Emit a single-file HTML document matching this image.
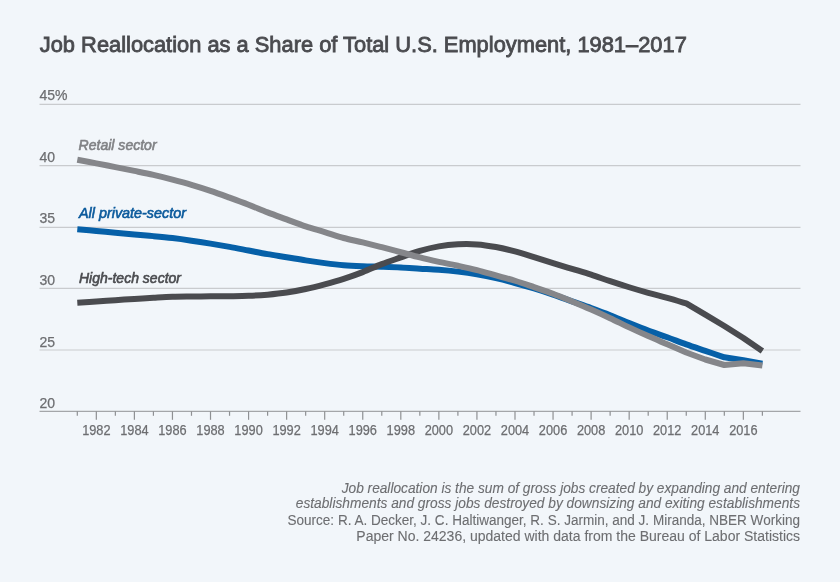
<!DOCTYPE html>
<html><head><meta charset="utf-8"><title>Job Reallocation as a Share of Total U.S. Employment, 1981–2017</title>
<style>
html,body{margin:0;padding:0;background:#f2f6fa;}
body{width:840px;height:582px;overflow:hidden;}
svg{display:block;}
text{font-family:"Liberation Sans",Arial,sans-serif;}
.ti{font-size:22.6px;font-weight:normal;fill:#4a4b4f;stroke:#4a4b4f;stroke-width:0.85px;}
.ax{font-size:14px;fill:#6d6e71;stroke:#6d6e71;stroke-width:0.25px;}
.sl{font-size:14.2px;font-weight:normal;font-style:italic;stroke-width:0.6px;}
.fn{font-size:14px;fill:#6d6e71;stroke:#6d6e71;stroke-width:0.1px;}
</style></head>
<body>
<svg width="840" height="582" viewBox="0 0 840 582" style="will-change:transform">
<rect width="840" height="582" fill="#f2f6fa"/>
<line x1="39.5" y1="104.3" x2="800.5" y2="104.3" stroke="#c9cbce" stroke-width="1.2"/>
<line x1="39.5" y1="165.6" x2="800.5" y2="165.6" stroke="#c9cbce" stroke-width="1.2"/>
<line x1="39.5" y1="227.3" x2="800.5" y2="227.3" stroke="#c9cbce" stroke-width="1.2"/>
<line x1="39.5" y1="288.4" x2="800.5" y2="288.4" stroke="#c9cbce" stroke-width="1.2"/>
<line x1="39.5" y1="350.0" x2="800.5" y2="350.0" stroke="#c9cbce" stroke-width="1.2"/>
<line x1="39.5" y1="411.3" x2="800.5" y2="411.3" stroke="#a4a6a9" stroke-width="1.2"/>
<line x1="77.30" y1="411.3" x2="77.30" y2="415.8" stroke="#8e9093" stroke-width="1.2"/>
<line x1="96.33" y1="411.3" x2="96.33" y2="419.8" stroke="#8e9093" stroke-width="1.2"/>
<line x1="115.36" y1="411.3" x2="115.36" y2="415.8" stroke="#8e9093" stroke-width="1.2"/>
<line x1="134.39" y1="411.3" x2="134.39" y2="419.8" stroke="#8e9093" stroke-width="1.2"/>
<line x1="153.42" y1="411.3" x2="153.42" y2="415.8" stroke="#8e9093" stroke-width="1.2"/>
<line x1="172.45" y1="411.3" x2="172.45" y2="419.8" stroke="#8e9093" stroke-width="1.2"/>
<line x1="191.48" y1="411.3" x2="191.48" y2="415.8" stroke="#8e9093" stroke-width="1.2"/>
<line x1="210.51" y1="411.3" x2="210.51" y2="419.8" stroke="#8e9093" stroke-width="1.2"/>
<line x1="229.54" y1="411.3" x2="229.54" y2="415.8" stroke="#8e9093" stroke-width="1.2"/>
<line x1="248.57" y1="411.3" x2="248.57" y2="419.8" stroke="#8e9093" stroke-width="1.2"/>
<line x1="267.60" y1="411.3" x2="267.60" y2="415.8" stroke="#8e9093" stroke-width="1.2"/>
<line x1="286.63" y1="411.3" x2="286.63" y2="419.8" stroke="#8e9093" stroke-width="1.2"/>
<line x1="305.66" y1="411.3" x2="305.66" y2="415.8" stroke="#8e9093" stroke-width="1.2"/>
<line x1="324.69" y1="411.3" x2="324.69" y2="419.8" stroke="#8e9093" stroke-width="1.2"/>
<line x1="343.72" y1="411.3" x2="343.72" y2="415.8" stroke="#8e9093" stroke-width="1.2"/>
<line x1="362.75" y1="411.3" x2="362.75" y2="419.8" stroke="#8e9093" stroke-width="1.2"/>
<line x1="381.78" y1="411.3" x2="381.78" y2="415.8" stroke="#8e9093" stroke-width="1.2"/>
<line x1="400.81" y1="411.3" x2="400.81" y2="419.8" stroke="#8e9093" stroke-width="1.2"/>
<line x1="419.84" y1="411.3" x2="419.84" y2="415.8" stroke="#8e9093" stroke-width="1.2"/>
<line x1="438.87" y1="411.3" x2="438.87" y2="419.8" stroke="#8e9093" stroke-width="1.2"/>
<line x1="457.90" y1="411.3" x2="457.90" y2="415.8" stroke="#8e9093" stroke-width="1.2"/>
<line x1="476.93" y1="411.3" x2="476.93" y2="419.8" stroke="#8e9093" stroke-width="1.2"/>
<line x1="495.96" y1="411.3" x2="495.96" y2="415.8" stroke="#8e9093" stroke-width="1.2"/>
<line x1="514.99" y1="411.3" x2="514.99" y2="419.8" stroke="#8e9093" stroke-width="1.2"/>
<line x1="534.02" y1="411.3" x2="534.02" y2="415.8" stroke="#8e9093" stroke-width="1.2"/>
<line x1="553.05" y1="411.3" x2="553.05" y2="419.8" stroke="#8e9093" stroke-width="1.2"/>
<line x1="572.08" y1="411.3" x2="572.08" y2="415.8" stroke="#8e9093" stroke-width="1.2"/>
<line x1="591.11" y1="411.3" x2="591.11" y2="419.8" stroke="#8e9093" stroke-width="1.2"/>
<line x1="610.14" y1="411.3" x2="610.14" y2="415.8" stroke="#8e9093" stroke-width="1.2"/>
<line x1="629.17" y1="411.3" x2="629.17" y2="419.8" stroke="#8e9093" stroke-width="1.2"/>
<line x1="648.20" y1="411.3" x2="648.20" y2="415.8" stroke="#8e9093" stroke-width="1.2"/>
<line x1="667.23" y1="411.3" x2="667.23" y2="419.8" stroke="#8e9093" stroke-width="1.2"/>
<line x1="686.26" y1="411.3" x2="686.26" y2="415.8" stroke="#8e9093" stroke-width="1.2"/>
<line x1="705.29" y1="411.3" x2="705.29" y2="419.8" stroke="#8e9093" stroke-width="1.2"/>
<line x1="724.32" y1="411.3" x2="724.32" y2="415.8" stroke="#8e9093" stroke-width="1.2"/>
<line x1="743.35" y1="411.3" x2="743.35" y2="419.8" stroke="#8e9093" stroke-width="1.2"/>
<line x1="762.38" y1="411.3" x2="762.38" y2="415.8" stroke="#8e9093" stroke-width="1.2"/>
<text x="39.5" y="100.0" class="ax">45%</text>
<text x="39.5" y="161.7" class="ax">40</text>
<text x="39.5" y="222.7" class="ax">35</text>
<text x="39.5" y="284.6" class="ax">30</text>
<text x="39.5" y="346.5" class="ax">25</text>
<text x="39.5" y="407.7" class="ax">20</text>
<text x="96.33" y="434.7" class="ax" text-anchor="middle" textLength="28.4" lengthAdjust="spacingAndGlyphs">1982</text>
<text x="134.39" y="434.7" class="ax" text-anchor="middle" textLength="28.4" lengthAdjust="spacingAndGlyphs">1984</text>
<text x="172.45" y="434.7" class="ax" text-anchor="middle" textLength="28.4" lengthAdjust="spacingAndGlyphs">1986</text>
<text x="210.51" y="434.7" class="ax" text-anchor="middle" textLength="28.4" lengthAdjust="spacingAndGlyphs">1988</text>
<text x="248.57" y="434.7" class="ax" text-anchor="middle" textLength="28.4" lengthAdjust="spacingAndGlyphs">1990</text>
<text x="286.63" y="434.7" class="ax" text-anchor="middle" textLength="28.4" lengthAdjust="spacingAndGlyphs">1992</text>
<text x="324.69" y="434.7" class="ax" text-anchor="middle" textLength="28.4" lengthAdjust="spacingAndGlyphs">1994</text>
<text x="362.75" y="434.7" class="ax" text-anchor="middle" textLength="28.4" lengthAdjust="spacingAndGlyphs">1996</text>
<text x="400.81" y="434.7" class="ax" text-anchor="middle" textLength="28.4" lengthAdjust="spacingAndGlyphs">1998</text>
<text x="438.87" y="434.7" class="ax" text-anchor="middle" textLength="28.4" lengthAdjust="spacingAndGlyphs">2000</text>
<text x="476.93" y="434.7" class="ax" text-anchor="middle" textLength="28.4" lengthAdjust="spacingAndGlyphs">2002</text>
<text x="514.99" y="434.7" class="ax" text-anchor="middle" textLength="28.4" lengthAdjust="spacingAndGlyphs">2004</text>
<text x="553.05" y="434.7" class="ax" text-anchor="middle" textLength="28.4" lengthAdjust="spacingAndGlyphs">2006</text>
<text x="591.11" y="434.7" class="ax" text-anchor="middle" textLength="28.4" lengthAdjust="spacingAndGlyphs">2008</text>
<text x="629.17" y="434.7" class="ax" text-anchor="middle" textLength="28.4" lengthAdjust="spacingAndGlyphs">2010</text>
<text x="667.23" y="434.7" class="ax" text-anchor="middle" textLength="28.4" lengthAdjust="spacingAndGlyphs">2012</text>
<text x="705.29" y="434.7" class="ax" text-anchor="middle" textLength="28.4" lengthAdjust="spacingAndGlyphs">2014</text>
<text x="743.35" y="434.7" class="ax" text-anchor="middle" textLength="28.4" lengthAdjust="spacingAndGlyphs">2016</text>
<path d="M77.30,229.30 C80.47,229.57 89.99,230.37 96.33,230.94 C102.67,231.52 109.02,232.18 115.36,232.75 C121.70,233.33 128.05,233.85 134.39,234.41 C140.73,234.98 147.08,235.51 153.42,236.13 C159.76,236.74 166.11,237.35 172.45,238.10 C178.79,238.86 185.14,239.74 191.48,240.66 C197.82,241.58 204.17,242.59 210.51,243.63 C216.85,244.67 223.20,245.73 229.54,246.87 C235.88,248.02 242.23,249.30 248.57,250.52 C254.91,251.73 261.26,253.04 267.60,254.15 C273.94,255.26 280.29,256.15 286.63,257.19 C292.97,258.23 299.32,259.41 305.66,260.39 C312.00,261.38 318.35,262.32 324.69,263.12 C331.03,263.93 337.38,264.69 343.72,265.20 C350.06,265.72 356.41,265.97 362.75,266.23 C369.09,266.48 375.44,266.53 381.78,266.74 C388.12,266.96 394.47,267.17 400.81,267.49 C407.15,267.81 413.50,268.26 419.84,268.64 C426.18,269.02 432.53,269.25 438.87,269.75 C445.21,270.25 451.56,270.85 457.90,271.62 C464.24,272.39 470.59,273.27 476.93,274.36 C483.27,275.46 489.62,276.73 495.96,278.16 C502.30,279.60 508.65,281.27 514.99,282.99 C521.33,284.71 527.68,286.55 534.02,288.49 C540.36,290.43 546.71,292.48 553.05,294.62 C559.39,296.76 565.74,299.11 572.08,301.34 C578.42,303.57 584.77,305.69 591.11,307.99 C597.45,310.29 603.80,312.64 610.14,315.17 C616.48,317.69 622.83,320.54 629.17,323.11 C635.51,325.68 641.86,328.25 648.20,330.61 C654.54,332.96 660.89,334.98 667.23,337.26 C673.57,339.55 679.92,342.07 686.26,344.33 C692.60,346.60 698.95,348.67 705.29,350.83 C711.63,352.99 721.15,356.22 724.32,357.30 L743.35,360.20 L762.38,363.70" fill="none" stroke="#0660a8" stroke-width="6" stroke-linejoin="round"/>
<path d="M77.30,302.70 C80.47,302.51 89.99,301.97 96.33,301.55 C102.67,301.14 109.02,300.65 115.36,300.21 C121.70,299.78 128.05,299.33 134.39,298.93 C140.73,298.53 147.08,298.15 153.42,297.80 C159.76,297.45 166.11,297.05 172.45,296.83 C178.79,296.62 185.14,296.59 191.48,296.50 C197.82,296.41 204.17,296.37 210.51,296.31 C216.85,296.26 223.20,296.26 229.54,296.18 C235.88,296.11 242.23,296.10 248.57,295.85 C254.91,295.60 261.26,295.23 267.60,294.68 C273.94,294.13 280.29,293.50 286.63,292.56 C292.97,291.62 299.32,290.39 305.66,289.02 C312.00,287.64 318.35,286.01 324.69,284.31 C331.03,282.61 337.38,280.86 343.72,278.82 C350.06,276.78 356.41,274.55 362.75,272.10 C369.09,269.65 375.44,266.60 381.78,264.14 C388.12,261.69 394.47,259.61 400.81,257.39 C407.15,255.18 413.50,252.71 419.84,250.88 C426.18,249.04 432.53,247.47 438.87,246.37 C445.21,245.28 451.56,244.63 457.90,244.30 C464.24,243.97 470.59,243.97 476.93,244.42 C483.27,244.87 489.62,245.87 495.96,247.02 C502.30,248.18 508.65,249.67 514.99,251.34 C521.33,253.01 527.68,255.08 534.02,257.04 C540.36,259.01 546.71,261.15 553.05,263.12 C559.39,265.10 565.74,266.96 572.08,268.88 C578.42,270.81 584.77,272.63 591.11,274.68 C597.45,276.73 603.80,279.08 610.14,281.18 C616.48,283.28 622.83,285.31 629.17,287.25 C635.51,289.20 641.86,291.08 648.20,292.85 C654.54,294.62 660.89,296.09 667.23,297.85 C673.57,299.61 683.09,302.47 686.26,303.40 L705.29,314.60 L724.32,326.00 L743.35,338.00 L762.38,351.00" fill="none" stroke="#4a4b4f" stroke-width="6" stroke-linejoin="round"/>
<path d="M77.30,159.70 C80.47,160.30 89.99,162.10 96.33,163.33 C102.67,164.56 109.02,165.84 115.36,167.10 C121.70,168.36 128.05,169.61 134.39,170.91 C140.73,172.22 147.08,173.48 153.42,174.94 C159.76,176.39 166.11,177.99 172.45,179.64 C178.79,181.29 185.14,182.97 191.48,184.83 C197.82,186.70 204.17,188.70 210.51,190.83 C216.85,192.96 223.20,195.30 229.54,197.61 C235.88,199.93 242.23,202.28 248.57,204.73 C254.91,207.19 261.26,209.89 267.60,212.34 C273.94,214.78 280.29,217.05 286.63,219.39 C292.97,221.73 299.32,224.25 305.66,226.37 C312.00,228.49 318.35,230.15 324.69,232.09 C331.03,234.03 337.38,236.28 343.72,238.01 C350.06,239.74 356.41,240.92 362.75,242.45 C369.09,243.98 375.44,245.58 381.78,247.21 C388.12,248.85 394.47,250.56 400.81,252.26 C407.15,253.96 413.50,255.84 419.84,257.43 C426.18,259.03 432.53,260.44 438.87,261.82 C445.21,263.21 451.56,264.38 457.90,265.76 C464.24,267.14 470.59,268.50 476.93,270.11 C483.27,271.72 489.62,273.64 495.96,275.41 C502.30,277.18 508.65,278.80 514.99,280.75 C521.33,282.71 527.68,284.97 534.02,287.14 C540.36,289.31 546.71,291.36 553.05,293.75 C559.39,296.15 565.74,298.86 572.08,301.50 C578.42,304.14 584.77,306.80 591.11,309.59 C597.45,312.38 603.80,315.25 610.14,318.22 C616.48,321.19 622.83,324.41 629.17,327.39 C635.51,330.38 641.86,333.29 648.20,336.11 C654.54,338.93 660.89,341.58 667.23,344.31 C673.57,347.05 683.09,351.14 686.26,352.50 L705.29,359.50 L724.32,365.00 L743.35,363.30 L762.38,365.50" fill="none" stroke="#85868a" stroke-width="6" stroke-linejoin="round"/>
<text x="78.6" y="150.1" class="sl" fill="#808285" stroke="#808285" textLength="78" lengthAdjust="spacingAndGlyphs">Retail sector</text>
<text x="79" y="217.5" class="sl" fill="#0b5a9c" stroke="#0b5a9c" textLength="107" lengthAdjust="spacingAndGlyphs">All private-sector</text>
<text x="79" y="283.1" class="sl" fill="#4a4b4f" stroke="#4a4b4f" textLength="102" lengthAdjust="spacingAndGlyphs">High-tech sector</text>
<text x="39.8" y="51.6" class="ti" textLength="647" lengthAdjust="spacingAndGlyphs">Job Reallocation as a Share of Total U.S. Employment, 1981–2017</text>
<text x="341.7" y="492.8" class="fn" font-style="italic" textLength="458.3" lengthAdjust="spacingAndGlyphs">Job reallocation is the sum of gross jobs created by expanding and entering</text>
<text x="295.8" y="508.3" class="fn" font-style="italic" textLength="504.2" lengthAdjust="spacingAndGlyphs">establishments and gross jobs destroyed by downsizing and exiting establishments</text>
<text x="287.5" y="524.8" class="fn" textLength="512.5" lengthAdjust="spacingAndGlyphs">Source: R. A. Decker, J. C. Haltiwanger, R. S. Jarmin, and J. Miranda, NBER Working</text>
<text x="356.3" y="540.6" class="fn" textLength="443.7" lengthAdjust="spacingAndGlyphs">Paper No. 24236, updated with data from the Bureau of Labor Statistics</text>
</svg>
</body></html>
